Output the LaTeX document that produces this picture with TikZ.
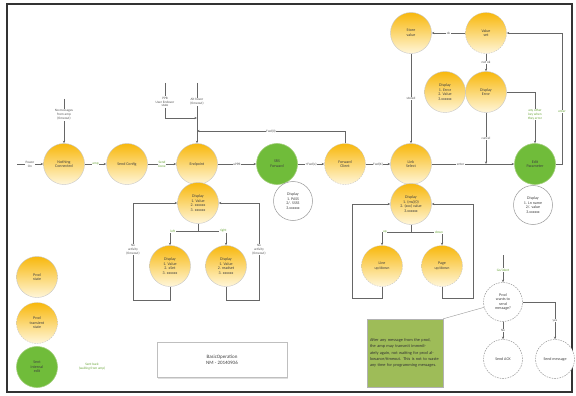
\documentclass[tikz,border=0pt]{standalone}
\usepackage{fontspec}
\setmainfont{Carlito}
\usetikzlibrary{arrows.meta,shadows}
\definecolor{ytop}{RGB}{248,184,12}
\definecolor{ybot}{RGB}{255,246,218}
\definecolor{gfill}{RGB}{112,188,58}
\definecolor{gline}{RGB}{160,205,120}
\definecolor{notefill}{RGB}{158,188,88}
\definecolor{lbltxt}{RGB}{85,85,85}
\definecolor{glbltxt}{RGB}{105,165,55}

\tikzset{
  st/.style={circle, minimum size=41pt, inner sep=0pt, align=center,
    font=\fontsize{4}{4.6}\selectfont, text=black!75},
  prod/.style={st, top color=ytop, bottom color=ybot, draw=black!22, line width=0.4pt},
  trans/.style={prod, dash pattern=on 1.6pt off 1pt},
  sent/.style={st, fill=gfill, draw=gline, line width=0.6pt},
  disp/.style={st, minimum size=39pt, fill=white, draw=black!40, line width=0.5pt},
  ask/.style={disp, dash pattern=on 1.6pt off 1pt},
  arr/.style={draw=black!60, line width=0.45pt, -{Stealth[length=2.6pt,width=2.2pt]}},
  ln/.style={draw=black!60, line width=0.45pt},
  lbl/.style={font=\fontsize{3.4}{3.9}\selectfont, text=lbltxt, fill=white,
    inner sep=0.6pt, align=center},
  glbl/.style={lbl, text=glbltxt},
}

\begin{document}
\begin{tikzpicture}[x=1pt, y=-1pt]
\useasboundingbox (0,0) rectangle (576,396);
\fill[white] (0,0) rectangle (576,396);
\draw[black!80, line width=1.5pt] (7,4) rectangle (572,392);

% main row of states
\node[prod]  (nc)  at (64,164)  {Nothing\\Connected};
\node[prod]  (sc)  at (127,164) {Send Config};
\node[prod]  (ep)  at (197,164) {Endpoint};
\node[sent]  (srs) at (277,164) {SRS\\Forward};
\node[trans] (fc)  at (345,164) {Forward\\Client};
\node[prod]  (ls)  at (411,164) {Link\\Select};
\node[sent]  (edp) at (535,164) {Edit\\Parameter};

% parameter editing
\node[prod]  (sv)  at (411,33)  {Store\\value};
\node[trans] (vs)  at (486,33)  {Value\\set};
\node[prod]  (de)  at (486,92)  {Display\\Error};
\node[prod]  (de1) at (445,92)  {Display\\1. Error\\2. Value\\3.xxxxxx};

% display states
\node[prod]  (dep) at (198,203) {Display\\1. Value\\2. xxxxxx\\3. xxxxxx};
\node[prod]  (dc1) at (170,266) {Display\\1. Value\\2. xSet\\3. xxxxxx};
\node[prod]  (dc2) at (226,266) {Display\\1. Value\\2. readset\\3. xxxxxx};
\node[disp]  (dsr) at (293,201) {Display\\1. PASS\\2/. SSSS\\3.xxxxxx};
\node[prod]  (dls) at (411,204) {Display\\1. (ms)(0)\\2. (xxx) value\\3.xxxxxx};
\node[trans] (lud) at (382,266) {Line\\up/down};
\node[trans] (pud) at (442,266) {Page\\up/down};
\node[disp]  (ded) at (533,205) {Display\\1. Ln name\\2/. value\\3.xxxxxx};

% messages from the prod
\node[ask]  (pw)  at (503,302) {Prod\\wants to\\send\\message?};
\node[ask]  (ack) at (503,359) {Send ACK};
\node[ask]  (sm)  at (555,359) {Send message};

% legend
\node[prod]  (lg1) at (37,277) {Prod\\state};
\node[trans] (lg2) at (37,323) {Prod\\transient\\state};
\node[sent]  (lg3) at (37,367) {Sent\\internal\\edit};
\node[glbl]  (lg3l) at (92,367) {Sent back\\(waiting from amp)};

% title and note
\node[draw=black!25, fill=white, drop shadow={opacity=0.25, shadow xshift=1pt, shadow yshift=-1pt},
  minimum width=130pt, minimum height=35pt, align=center,
  font=\fontsize{5}{6.5}\selectfont, text=black!75] (bo) at (222,360)
  {BasicOperation\\NM - 20140906};
\node[draw=black!30, fill=notefill, text width=70pt, minimum height=68pt, align=left,
  inner sep=3pt, font=\fontsize{4.3}{6.2}\selectfont, text=black!80] (note) at (405,353)
  {After any message from the prod, the amp may transmit immediately again, not waiting for prod allowance/timeout. This is not to waste any time for programming messages.};

% power on and startup
\coordinate (pwr) at (17,164);
\node[lbl] (pwrl) at (30,164) {Power\\On};
\draw[ln] (pwr) -- (pwrl);
\draw[arr] (pwrl) -- (nc);
\coordinate (nct) at (64,99);
\node[lbl] (ncl) at (64,115) {No messages\\from amp\\(timeout)};
\draw[ln] (nct) -- (ncl);
\draw[arr] (ncl) -- (nc);

\draw[arr] (nc) -- node[glbl] {amp} (sc);
\draw[arr] (sc) -- node[glbl] {Send\\Done} (ep);
\draw[arr] (ep) -- node[lbl] {uPPB} (srs);
\draw[arr] (srs) -- node[lbl] {+Fwd(x)} (fc);
\draw[arr] (fc) -- node[lbl] {Fwd(X)} (ls);
\draw[arr] (ls) -- node[lbl, pos=0.35] {enter} (edp);

% inputs into Endpoint
\coordinate (plt) at (165,83);
\coordinate (mlt) at (197,83);
\node[lbl] (pl) at (165,102) {PPB\\User Endover\\state};
\node[lbl] (ml) at (197,102) {Alt hover\\(timeout)};
\coordinate (pj) at (197,118);
\coordinate (epj) at (197,131);
\draw[ln] (plt) -- (pl);
\draw[ln] (mlt) -- (ml);
\draw[arr] (ml) -- (ep);
\draw[arr] (pl) |- (pj);
\draw[arr] (fc) |- node[lbl, pos=0.75] {Fwd(0)} (epj);

% Endpoint display menus
\coordinate (dsp) at (198,231);
\draw[ln] (dep) -- (dsp);
\draw[arr] (dsp) -| node[glbl, pos=0.45] {left} (dc1);
\draw[arr] (dsp) -| node[glbl, pos=0.45] {right} (dc2);
\coordinate (l1b) at (133,300);
\coordinate (l2b) at (259,300);
\draw[arr] (dc1) |- (l1b) |- node[lbl, pos=0.26] {No\\activity\\(timeout)} (dep);
\draw[arr] (dc2) |- (l2b) |- node[lbl, pos=0.26] {No\\activity\\(timeout)} (dep);

% Link display menus
\coordinate (lsp) at (411,232);
\draw[ln] (dls) -- (lsp);
\draw[arr] (lsp) -| node[glbl, pos=0.45] {up} (lud);
\draw[arr] (lsp) -| node[glbl, pos=0.45] {down} (pud);
\coordinate (l3b) at (352,298);
\coordinate (l4b) at (473,298);
\draw[arr] (lud) |- (l3b) |- (dls);
\draw[arr] (pud) |- (l4b) |- (dls);

% parameter edit loop
\draw[arr] (sv) -- node[lbl] {stored} (ls);
\draw[arr] (vs) -- node[lbl] {ok} (sv);
\draw[arr] (vs) -- node[lbl] {not ok} (de);
\coordinate (cj) at (486,164);
\draw[arr] (de) -- node[lbl] {cancel} (cj);
\draw[arr] (de) -| node[glbl, pos=0.72] {any other\\key when\\they error} (edp);
\coordinate (ec) at (562,33);
\draw[arr] (edp) -| node[glbl, pos=0.7] {enter} (ec) -- (vs);

% prod message handling
\coordinate (gi) at (503,255);
\node[glbl] (gil) at (503,270) {Go/ident};
\draw[ln] (gi) -- (gil);
\draw[arr] (gil) -- (pw);
\draw[arr] (pw) -- node[lbl] {No} (ack);
\draw[arr] (pw) -| node[lbl, pos=0.75] {yes} (sm);
\draw[black!40, line width=0.4pt] (note.north east) -- (pw);
\end{tikzpicture}
\end{document}
